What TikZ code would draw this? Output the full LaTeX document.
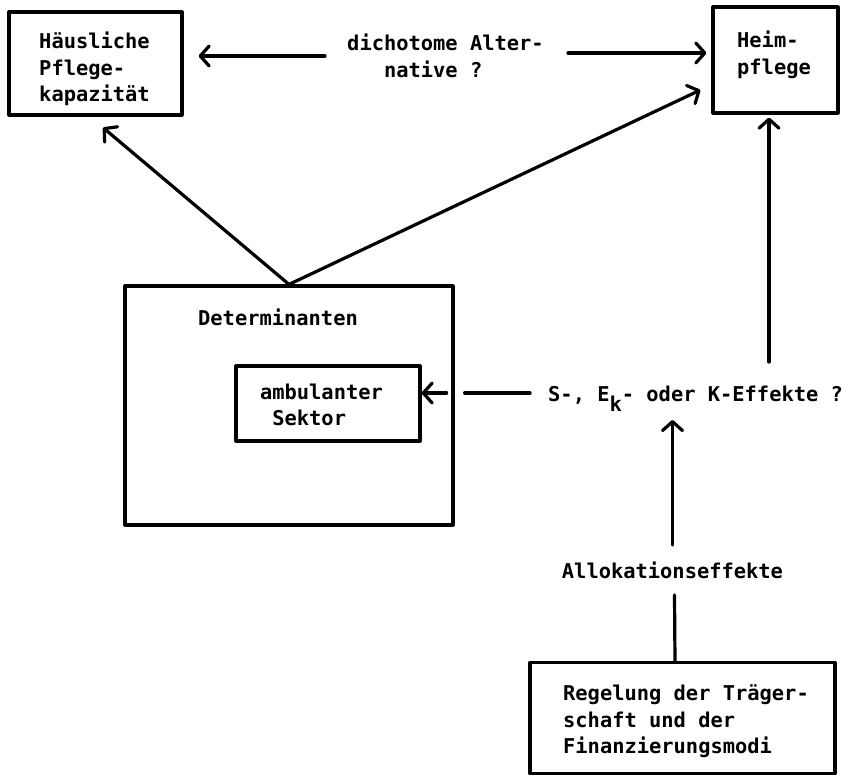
\documentclass[tikz,border=0pt]{standalone}
\usepackage{fontspec}
\newfontfamily\tw{DejaVu Sans Mono Bold}
\usetikzlibrary{arrows.meta,calc}
\begin{document}
\begin{tikzpicture}[x=1pt,y=-1pt,
  box/.style={draw,line width=3.2pt,inner sep=0pt,line join=round},
  lbl/.style={inner sep=0pt,align=left,font=\tw\fontsize{20.4}{26.5}\selectfont},
  conn/.style={line width=3.2pt,line cap=round},
  arr/.style={conn,-{Straight Barb[length=9pt,width=20pt,line cap=round,line join=round]}}]
\useasboundingbox (0,0) rectangle (855,776);
% boxes
\node[box,minimum width=173pt,minimum height=103pt] (haus) at (95.5,63.5) {};
\node[box,minimum width=125pt,minimum height=106pt] (heim) at (775.5,60) {};
\node[box,minimum width=328pt,minimum height=239pt] (det) at (289,405.5) {};
\node[box,minimum width=184pt,minimum height=75pt] (amb) at (328,403.5) {};
\node[box,minimum width=305pt,minimum height=111pt] (reg) at (682.5,718) {};
% labels
\node[lbl] (haust) at (94.5,69) {Häusliche\\Pflege-\\kapazität};
\node[lbl] (heimt) at (774,55) {Heim-\\pflege};
\node[lbl] (dich) at (445.5,56) {dichotome Alter-\\\hphantom{nnn}native ?};
\node[lbl] (dett) at (278,317) {Determinanten};
\node[lbl] (ambt) at (321.5,405) {ambulanter\\\hphantom{n}Sektor};
\node[lbl,anchor=base west] (eff) at (548,401) {S-, E\raisebox{-10pt}{k}- oder K-Effekte ?};
\node[lbl] (allo) at (672.5,570) {Allokationseffekte};
\node[lbl] (regt) at (686,721.5) {Regelung der Träger-\\schaft und der\\Finanzierungsmodi};
% connectors
\draw[arr] ($(dich.west)+(-22,0)$) -- ($(haus.east |- dich.west)+(15,0)$);
\draw[arr] ($(dich.east)+(24,-3)$) -- ($(heim.west |- dich.east)+(-5,-3)$);
\draw[arr] (det.north) -- ($(haus.south)+(7.5,11)$);
\draw[arr] (det.north) -- ($(heim.west)+(-11,30)$);
\draw[arr] ($(heim.south |- eff.base)+(-6.5,-39)$) -- ($(heim.south)+(-6.5,3)$);
\draw[conn] ($(eff.base west)+(-18,-8)$) -- ($(det.east |- eff.base)+(10,-8)$);
\draw[arr] ($(det.east |- eff.base)+(-8,-8)$) -- ($(amb.east |- eff.base)+(0,-8)$);
\draw[arr] ($(allo.center)+(0,-25)$) -- ($(allo.center |- eff.base)+(0,19)$);
\draw[conn] ($(allo.center)+(2,25)$) -- ($(reg.north)+(-7.5,0)$);
\end{tikzpicture}
\end{document}
